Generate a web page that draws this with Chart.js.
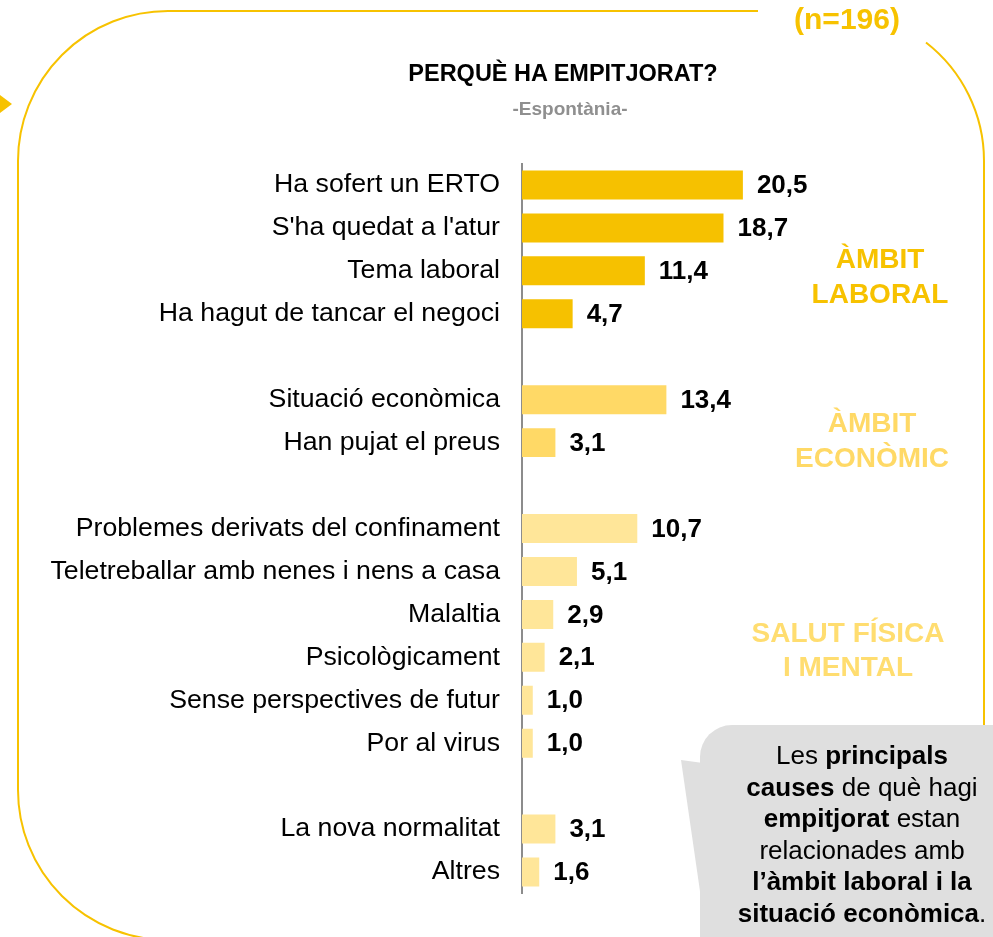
<!DOCTYPE html>
<html>
<head>
<meta charset="utf-8">
<script src="https://cdn.jsdelivr.net/npm/chart.js@4"></script>
<style>
  html, body { margin: 0; padding: 0; background: #fff; }
  #wrap { position: relative; width: 993px; height: 937px; overflow: hidden; font-family: "Liberation Sans", Arial, sans-serif; }
  #deco, #chart { position: absolute; left: 0; top: 0; }
  .txt { position: absolute; text-align: center; white-space: nowrap; }
</style>
</head>
<body>
<div id="wrap">
  <svg id="deco" width="993" height="937">
    <!-- rounded frame, left open at top right for the n label -->
    <path d="M758 11 L168 11 A150 150 0 0 0 18 161 L18 790 A150 150 0 0 0 168 940" fill="none" stroke="#F7C200" stroke-width="2"/>
    <path d="M926 42.5 A150 150 0 0 1 984 161 L984 940" fill="none" stroke="#F7C200" stroke-width="2"/>
    <polygon points="0,95 12,104 0,113" fill="#F7C200"/>
    <!-- speech bubble -->
    <path d="M700 940 L700 757 A32 32 0 0 1 732 725 L1000 725 L1000 940 Z" fill="#DFDFDF"/>
    <polygon points="681,760 703,763 703,912" fill="#DFDFDF"/>
  </svg>
  <canvas id="chart" width="993" height="937"></canvas>

  <div class="txt" style="left:363px;width:400px;top:62px;font-size:23.5px;line-height:23.5px;font-weight:bold;color:#000;">PERQUÈ HA EMPITJORAT?</div>
  <div class="txt" style="left:470px;width:200px;top:99px;font-size:19px;line-height:19px;font-weight:bold;color:#8F8F8F;">-Espontània-</div>
  <div class="txt" style="left:767px;width:160px;top:3.5px;font-size:30px;line-height:30px;font-weight:bold;color:#F7C200;">(n=196)</div>

  <div class="txt" style="left:730px;width:300px;top:241px;font-size:28px;line-height:35px;font-weight:bold;color:#F7C200;">ÀMBIT<br>LABORAL</div>
  <div class="txt" style="left:722px;width:300px;top:405px;font-size:28px;line-height:35px;font-weight:bold;color:#FFD966;">ÀMBIT<br>ECONÒMIC</div>
  <div class="txt" style="left:698px;width:300px;top:616px;font-size:28px;line-height:34px;font-weight:bold;color:#FFDD70;">SALUT FÍSICA<br>I MENTAL</div>

  <div class="txt" style="left:712px;width:300px;top:740px;font-size:26px;line-height:31.5px;color:#000;">
    Les <b>principals</b><br><b>causes</b> de què hagi<br><b>empitjorat</b> estan<br>relacionades amb<br><b>l’àmbit laboral i la</b><br><b>situació econòmica</b>.
  </div>
</div>

<script>
// categories, blank entries are the gaps between the groups
const categories = [
    'Ha sofert un ERTO',
    "S'ha quedat a l'atur",
    'Tema laboral',
    'Ha hagut de tancar el negoci',
    '',
    'Situació econòmica',
    'Han pujat el preus',
    '',
    'Problemes derivats del confinament',
    'Teletreballar amb nenes i nens a casa',
    'Malaltia',
    'Psicològicament',
    'Sense perspectives de futur',
    'Por al virus',
    '',
    'La nova normalitat',
    'Altres'
];
const values = [20.5, 18.7, 11.4, 4.7, null, 13.4, 3.1, null, 10.7, 5.1, 2.9, 2.1, 1.0, 1.0, null, 3.1, 1.6];
// 0 = laboral, 1 = econòmic, 2 = salut / altres
const groups = [0, 0, 0, 0, null, 1, 1, null, 2, 2, 2, 2, 2, 2, null, 2, 2];
const groupColors = ['#F6C100', '#FFD966', '#FFE699'];

const fontFamily = '"Liberation Sans", Arial, sans-serif';

// draws the value next to each bar, with a decimal comma
const valueLabels = {
    id: 'valueLabels',
    afterDatasetsDraw(chart) {
        const ctx = chart.ctx;
        const meta = chart.getDatasetMeta(0);
        ctx.save();
        ctx.font = 'bold 26px ' + fontFamily;
        ctx.fillStyle = '#000';
        ctx.textBaseline = 'middle';
        ctx.textAlign = 'left';
        meta.data.forEach(function (bar, i) {
            const v = values[i];
            if (v === null) return;
            ctx.fillText(v.toFixed(1).replace('.', ','), bar.x + 14, bar.y + 1);
        });
        ctx.restore();
    }
};

const ctx = document.getElementById('chart').getContext('2d');
new Chart(ctx, {
    type: 'bar',
    data: {
        labels: categories,
        datasets: [{
            data: values,
            backgroundColor: groups.map(g => g === null ? 'transparent' : groupColors[g]),
            borderWidth: 0,
            barPercentage: 1,
            categoryPercentage: 0.675
        }]
    },
    options: {
        indexAxis: 'y',
        responsive: false,
        animation: false,
        layout: {
            padding: { left: 0, right: 40, top: 163.5, bottom: 43.5 }
        },
        plugins: {
            legend: { display: false },
            tooltip: { enabled: false }
        },
        scales: {
            x: {
                display: false,
                min: 0,
                max: 40
            },
            y: {
                grid: { display: false, drawTicks: false },
                border: { display: true, color: '#8C8C8C', width: 2 },
                ticks: {
                    color: '#000',
                    padding: 22,
                    autoSkip: false,
                    font: { family: fontFamily, size: 26.7 }
                },
                afterFit: function (scale) {
                    scale.width = 522;
                }
            }
        }
    },
    plugins: [valueLabels]
});
</script>
</body>
</html>
